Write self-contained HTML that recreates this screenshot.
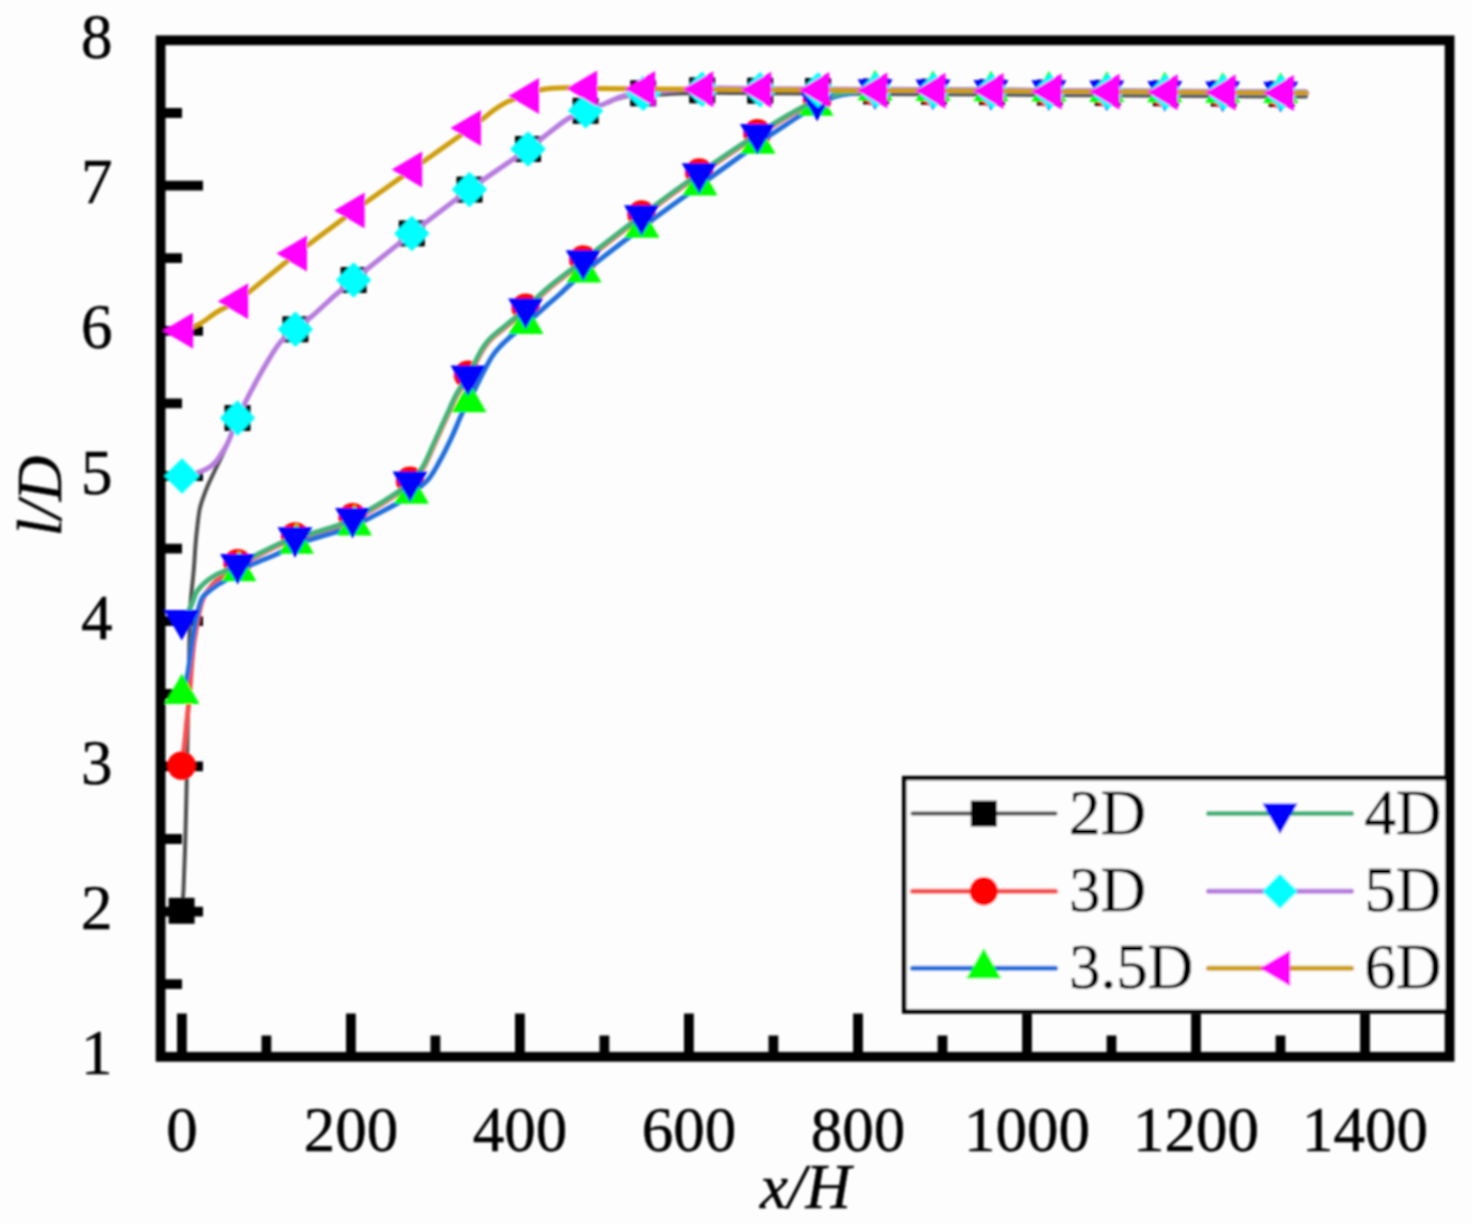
<!DOCTYPE html><html><head><meta charset="utf-8"><style>html,body{margin:0;padding:0;background:#fdfdfd;}svg{display:block;}text{font-family:"Liberation Serif",serif;stroke:#000;stroke-width:0.5px;}</style></head><body>
<svg width="1472" height="1224" viewBox="0 0 1472 1224">
<rect width="1472" height="1224" fill="#fdfdfd"/>
<defs><filter id="bl" x="-5%" y="-5%" width="110%" height="110%"><feGaussianBlur stdDeviation="1.3"/></filter></defs>
<g id="plot" filter="url(#bl)">
<path d="M181.9 1056.8V1013.5M350.9 1056.8V1013.5M519.9 1056.8V1013.5M688.9 1056.8V1013.5M858 1056.8V1013.5M1027 1056.8V1013.5M1196 1056.8V1013.5M1365 1056.8V1013.5M266.4 1056.8V1035.5M435.4 1056.8V1035.5M604.4 1056.8V1035.5M773.4 1056.8V1035.5M942.5 1056.8V1035.5M1111.5 1056.8V1035.5M1280.5 1056.8V1035.5M160.6 911.6H203M160.6 766.4H203M160.6 621.2H203M160.6 476H203M160.6 330.8H203M160.6 185.6H203M160.6 984.2H182M160.6 839H182M160.6 693.8H182M160.6 548.6H182M160.6 403.4H182M160.6 258.2H182M160.6 113H182" stroke="#000" stroke-width="9.8" fill="none"/>
<rect x="160.6" y="40.3" width="1289" height="1016.5" stroke="#000" stroke-width="9.8" fill="none"/>
<path d="M181.8 910.8C182.1 907.3 183 900.1 183.5 890C184 879.9 184.5 865 185 850C185.5 835 185.9 816.7 186.3 800C186.7 783.3 187 766.7 187.3 750C187.6 733.3 187.9 716.7 188.2 700C188.5 683.3 188.9 665 189.2 650C189.5 635 189.8 619.8 190.2 610C190.6 600.2 191 598.3 191.6 591.5C192.2 584.7 193.2 577.1 193.8 569.4C194.5 561.6 194.9 552.4 195.5 545C196.1 537.6 196.8 530.8 197.5 525C198.2 519.2 198.7 514.2 199.5 510C200.3 505.8 200.8 504.3 202.3 500C203.8 495.7 206.2 489.2 208.3 484.4C210.4 479.6 212.7 475.1 214.6 471C216.5 466.9 218.2 463.8 220 460C221.8 456.2 223.8 452 225.4 448.5C227 445 228.2 442.1 229.5 439C230.8 435.9 231.7 433.5 233 430C234.3 426.5 235.5 422.6 237.5 418C239.5 413.4 241.8 408.9 245.1 402.6C248.3 396.3 253.1 387.2 257 380C260.9 372.8 264.9 365.8 268.8 359.4C272.7 353 276.2 346.8 280.6 341.8C285 336.8 290 333.7 295.4 329.3C300.8 324.9 306.1 321.2 313 315.3C319.9 309.4 329.7 299.9 336.5 294C343.3 288.1 341.1 290.1 353.6 280C366.2 269.9 392.5 248.5 411.8 233.4C431.1 218.3 450.1 203.7 469.5 189.6C488.9 175.5 514.8 158.4 528 149C541.2 139.6 542 138.1 548.7 133C555.4 127.9 562.1 122.2 568.3 118.5C574.4 114.8 579.5 113.3 585.6 110.8C591.8 108.3 600.1 105.7 605.2 103.7C610.3 101.8 612.4 100.5 616 99.2C619.6 98 622.5 96.9 627 96.2C631.5 95.6 630.7 95.8 643.2 95.2C655.7 94.7 682.7 93.2 702.2 92.8C721.7 92.5 740.8 93.1 760.2 93.2C779.5 93.3 798.8 93.4 818.1 93.5C837.4 93.6 856.7 93.8 876.1 93.9C895.4 94 914.7 94.1 934 94.2C953.3 94.4 972.6 94.5 992 94.6C1011.3 94.7 1030.6 94.8 1049.9 95C1069.2 95.1 1088.5 95.2 1107.8 95.3C1127.2 95.4 1146.5 95.6 1165.8 95.7C1185.1 95.8 1204.4 95.9 1223.8 96C1243.1 96.2 1268 96.3 1281.7 96.4C1295.4 96.5 1302 96.5 1306 96.5" stroke="#505050" stroke-width="4.0" fill="none" stroke-linejoin="round" stroke-linecap="round"/><rect x="168.6" y="897.8" width="26" height="26" fill="#000000"/><rect x="224.5" y="405" width="26" height="26" fill="#000000"/><rect x="282.4" y="316.3" width="26" height="26" fill="#000000"/><rect x="340.6" y="267" width="26" height="26" fill="#000000"/><rect x="398.8" y="220.4" width="26" height="26" fill="#000000"/><rect x="456.5" y="176.6" width="26" height="26" fill="#000000"/><rect x="515" y="136" width="26" height="26" fill="#000000"/><rect x="572.6" y="97.8" width="26" height="26" fill="#000000"/><rect x="630.2" y="80.3" width="26" height="26" fill="#000000"/><rect x="689.2" y="77.3" width="26" height="26" fill="#000000"/><rect x="747.2" y="77.7" width="26" height="26" fill="#000000"/><rect x="805.1" y="78" width="26" height="26" fill="#000000"/><rect x="863.1" y="78.4" width="26" height="26" fill="#000000"/><rect x="921" y="78.7" width="26" height="26" fill="#000000"/><rect x="979" y="79.1" width="26" height="26" fill="#000000"/><rect x="1036.9" y="79.5" width="26" height="26" fill="#000000"/><rect x="1094.8" y="79.8" width="26" height="26" fill="#000000"/><rect x="1152.8" y="80.2" width="26" height="26" fill="#000000"/><rect x="1210.8" y="80.5" width="26" height="26" fill="#000000"/><rect x="1268.7" y="80.9" width="26" height="26" fill="#000000"/>
<path d="M181.6 765.6C182.1 762.2 183.6 752.6 184.5 745C185.4 737.4 186.2 727.5 187 720C187.8 712.5 188.4 706.7 189 700C189.6 693.3 190 686.7 190.5 680C191 673.3 191.4 666.2 192 660C192.6 653.8 193.1 648.3 193.8 643C194.5 637.7 195.4 633 196.3 628C197.2 623 198.1 617.2 199 613C199.9 608.8 200.6 605.9 201.5 603C202.4 600.1 203.2 597.9 204.5 595.5C205.8 593.1 207.4 591.1 209.5 588.5C211.6 585.9 214.6 582.2 217.3 580C220.1 577.8 222.5 577.5 226 575C229.5 572.5 233.3 568.3 238.1 565.3C242.9 562.3 248.3 560.3 255 557C261.7 553.7 271.4 548.6 278.1 545.5C284.9 542.4 289.9 540.2 295.5 538.4C301.1 536.6 304.9 536.5 312 534.5C319.1 532.5 330.9 529 337.8 526.5C344.7 524 347.7 521.9 353.1 519.2C358.6 516.5 363.1 514.8 370.5 510.5C377.9 506.2 390.8 498.2 397.5 493.6C404.2 489 406.3 486.9 410.5 482.7C414.7 478.5 418.9 474.9 422.9 468.5C426.9 462.1 430.6 452.5 434.5 444C438.4 435.5 442.8 425.5 446.5 417.5C450.2 409.5 452.8 402.8 456.5 396C460.2 389.2 464.3 384.1 468.5 376.7C472.7 369.3 478.2 357.6 481.7 351.6C485.2 345.6 486.6 344.1 489.5 340.8C492.4 337.5 496 334.8 499.3 332C502.6 329.2 504.6 327.8 509.1 324.1C513.6 320.4 519.6 315.5 526.1 309.6C532.6 303.8 538.7 297 548.3 289C557.9 281 568.1 273.6 583.7 261.5C599.3 249.4 622.7 231 642 216.5C661.3 202 680.4 188.1 699.7 174.5C719 160.9 742.8 145.1 757.9 135.2C773 125.3 780.9 120.5 790.5 115C800.1 109.5 807.2 105.4 815.5 102C823.8 98.6 833 96.1 840.5 94.5C848 92.9 854.7 93 860.5 92.3C866.3 91.6 863.4 90.6 875.6 90.4C887.7 90.1 914.2 90.6 933.5 90.7C952.8 90.9 972.1 91 991.5 91.1C1010.8 91.2 1030.1 91.3 1049.4 91.5C1068.7 91.6 1088 91.7 1107.3 91.8C1126.7 91.9 1146 92.1 1165.3 92.2C1184.6 92.3 1203.9 92.4 1223.2 92.5C1242.6 92.6 1267.3 92.8 1281.2 92.9C1295.1 93 1302.3 93 1306.5 93" stroke="#f44f4f" stroke-width="5.0" fill="none" stroke-linejoin="round" stroke-linecap="round"/><circle cx="181.6" cy="765.6" r="14.2" fill="#ff0000"/><circle cx="237.6" cy="563.3" r="14.2" fill="#ff0000"/><circle cx="295" cy="536.4" r="14.2" fill="#ff0000"/><circle cx="352.6" cy="517.2" r="14.2" fill="#ff0000"/><circle cx="410" cy="480.7" r="14.2" fill="#ff0000"/><circle cx="468" cy="374.7" r="14.2" fill="#ff0000"/><circle cx="525.6" cy="307.6" r="14.2" fill="#ff0000"/><circle cx="583.2" cy="259.5" r="14.2" fill="#ff0000"/><circle cx="641.5" cy="214.5" r="14.2" fill="#ff0000"/><circle cx="699.2" cy="172.5" r="14.2" fill="#ff0000"/><circle cx="757.4" cy="133.2" r="14.2" fill="#ff0000"/><circle cx="817.1" cy="100" r="14.2" fill="#ff0000"/><circle cx="875.1" cy="91.4" r="14.2" fill="#ff0000"/><circle cx="933" cy="91.7" r="14.2" fill="#ff0000"/><circle cx="991" cy="92.1" r="14.2" fill="#ff0000"/><circle cx="1048.9" cy="92.5" r="14.2" fill="#ff0000"/><circle cx="1106.8" cy="92.8" r="14.2" fill="#ff0000"/><circle cx="1164.8" cy="93.2" r="14.2" fill="#ff0000"/><circle cx="1222.8" cy="93.5" r="14.2" fill="#ff0000"/><circle cx="1280.7" cy="93.9" r="14.2" fill="#ff0000"/>
<path d="M182 693.8C182.5 692.5 184 689.6 185 686C186 682.4 187.1 677.2 188 672C188.9 666.8 189.8 660.3 190.5 655C191.2 649.7 191.8 644.5 192.5 640C193.2 635.5 193.8 632.4 194.6 628C195.4 623.6 196.7 617.4 197.5 613.5C198.3 609.6 198.8 607.4 199.7 604.7C200.5 602 201.1 599.6 202.6 597.4C204.1 595.2 205.8 593.7 208.5 591.5C211.2 589.3 215.9 586 218.8 584C221.8 582 222.8 581.9 226.2 579.7C229.6 577.5 234.3 573.7 239 571C243.7 568.3 248.1 566.2 254.5 563.3C260.9 560.4 270.6 557 277.6 553.7C284.6 550.4 290.9 545.9 296.5 543.5C302.1 541.1 304.9 541.2 311.5 539.3C318.1 537.4 328.8 534.3 336 532C343.2 529.7 349.1 527.6 354.5 525.3C359.9 523 361.5 522 368.6 518.4C375.7 514.8 389.9 507.6 397 503.5C404.1 499.4 406.3 497.5 411.5 493.5C416.7 489.5 423.2 485.2 428 479.7C432.8 474.2 436 467.7 440 460.6C444 453.5 448.1 444.9 451.8 437C455.5 429.1 459.1 419.5 462 413.5C464.9 407.5 465.8 407.1 469 401C472.2 394.9 477.2 384.2 481 376.8C484.8 369.4 488.7 361.7 492 356.5C495.3 351.3 498 348.7 500.8 345.7C503.6 342.7 504.4 341.9 508.6 338.3C512.8 334.7 519.5 329.4 526 323.8C532.5 318.2 542.1 309.5 547.8 304.5C553.5 299.5 554 299.4 560 294C566 288.6 570.3 283.4 584 272.3C597.7 261.2 622.7 242 642 227.5C661.3 213 680.7 199.3 700 185.3C719.3 171.3 743 154.1 758 143.5C773 132.9 780.3 128.3 790 122C799.7 115.7 808.5 109.8 816 105.5C823.5 101.2 828.3 98.7 835 96.5C841.7 94.3 849.3 93.5 856 92.6C862.7 91.7 862.2 91.1 875.1 90.9C887.9 90.7 913.7 91.1 933 91.2C952.3 91.4 971.6 91.5 991 91.6C1010.3 91.7 1029.6 91.8 1048.9 92C1068.2 92.1 1087.5 92.2 1106.8 92.3C1126.2 92.4 1145.5 92.6 1164.8 92.7C1184.1 92.8 1203.4 92.9 1222.8 93C1242.1 93.1 1266.8 93.3 1280.7 93.4C1294.6 93.5 1301.8 93.5 1306 93.5" stroke="#2070dd" stroke-width="5.0" fill="none" stroke-linejoin="round" stroke-linecap="round"/><path d="M182 673.5L199.5 704L164.5 704Z" fill="#00ff00"/><path d="M239 550.7L256.5 581.2L221.5 581.2Z" fill="#00ff00"/><path d="M296.5 523.2L314 553.7L279 553.7Z" fill="#00ff00"/><path d="M354.5 505L372 535.5L337 535.5Z" fill="#00ff00"/><path d="M411.5 473.2L429 503.7L394 503.7Z" fill="#00ff00"/><path d="M469 381.7L486.5 412.2L451.5 412.2Z" fill="#00ff00"/><path d="M526 303.5L543.5 334L508.5 334Z" fill="#00ff00"/><path d="M584 252L601.5 282.5L566.5 282.5Z" fill="#00ff00"/><path d="M642 207.2L659.5 237.7L624.5 237.7Z" fill="#00ff00"/><path d="M700 165L717.5 195.5L682.5 195.5Z" fill="#00ff00"/><path d="M758 123.2L775.5 153.7L740.5 153.7Z" fill="#00ff00"/><path d="M816 85.2L833.5 115.7L798.5 115.7Z" fill="#00ff00"/><path d="M875.1 70L892.6 100.5L857.6 100.5Z" fill="#00ff00"/><path d="M933 70.4L950.5 100.9L915.5 100.9Z" fill="#00ff00"/><path d="M991 70.8L1008.5 101.3L973.5 101.3Z" fill="#00ff00"/><path d="M1048.9 71.1L1066.4 101.6L1031.4 101.6Z" fill="#00ff00"/><path d="M1106.8 71.5L1124.3 102L1089.3 102Z" fill="#00ff00"/><path d="M1164.8 71.8L1182.3 102.3L1147.3 102.3Z" fill="#00ff00"/><path d="M1222.8 72.2L1240.2 102.7L1205.2 102.7Z" fill="#00ff00"/><path d="M1280.7 72.6L1298.2 103.1L1263.2 103.1Z" fill="#00ff00"/>
<path d="M181.7 620.2C182.9 618.5 187.1 613.2 189 610C190.9 606.8 191.8 603.8 193 601C194.2 598.2 194.8 595.2 196 593C197.2 590.8 198.1 589.6 200 587.5C201.9 585.4 204.6 582.7 207.5 580.5C210.4 578.3 214.2 576 217.3 574.3C220.4 572.6 222.6 572.2 226 570.5C229.4 568.8 232.8 566.7 237.6 564.3C242.3 561.9 247.8 559.3 254.5 556C261.2 552.7 270.9 547.6 277.6 544.5C284.4 541.4 289.4 539.2 295 537.4C300.6 535.6 304.4 535.5 311.5 533.5C318.6 531.5 330.4 528 337.3 525.5C344.2 523 347.2 520.9 352.6 518.2C358.1 515.5 362.6 513.8 370 509.5C377.4 505.2 390.3 497.2 397 492.6C403.7 488 405.8 485.9 410 481.7C414.2 477.5 418.4 473.9 422.4 467.5C426.4 461.1 430.1 451.5 434 443C437.9 434.5 442.3 424.5 446 416.5C449.7 408.5 452.3 401.8 456 395C459.7 388.2 463.8 383.1 468 375.7C472.2 368.3 477.7 356.6 481.2 350.6C484.7 344.6 486.1 343.1 489 339.8C491.9 336.5 495.5 333.8 498.8 331C502.1 328.2 504.1 326.8 508.6 323.1C513.1 319.4 519.1 314.5 525.6 308.6C532.1 302.8 538.2 296 547.8 288C557.4 280 567.6 272.6 583.2 260.5C598.8 248.4 622.2 230 641.5 215.5C660.8 201 679.9 187.1 699.2 173.5C718.5 159.9 742.3 144.1 757.4 134.2C772.5 124.3 780.4 119.5 790 114C799.6 108.5 806.7 104.4 815 101C823.3 97.6 832.5 95.1 840 93.5C847.5 91.9 854.2 92 860 91.3C865.8 90.6 862.9 89.6 875.1 89.4C887.2 89.1 913.7 89.6 933 89.7C952.3 89.9 971.6 90 991 90.1C1010.3 90.2 1029.6 90.3 1048.9 90.5C1068.2 90.6 1087.5 90.7 1106.8 90.8C1126.2 90.9 1145.5 91.1 1164.8 91.2C1184.1 91.3 1203.4 91.4 1222.8 91.5C1242.1 91.6 1266.8 91.8 1280.7 91.9C1294.6 92 1301.8 92 1306 92" stroke="#42b379" stroke-width="5.0" fill="none" stroke-linejoin="round" stroke-linecap="round"/><path d="M164.2 610L199.2 610L181.7 640.5Z" fill="#0000ff"/><path d="M220.1 554.1L255.1 554.1L237.6 584.6Z" fill="#0000ff"/><path d="M277.5 527.2L312.5 527.2L295 557.7Z" fill="#0000ff"/><path d="M335.1 508L370.1 508L352.6 538.5Z" fill="#0000ff"/><path d="M392.5 471.5L427.5 471.5L410 502Z" fill="#0000ff"/><path d="M450.5 365.5L485.5 365.5L468 396Z" fill="#0000ff"/><path d="M508.1 298.4L543.1 298.4L525.6 328.9Z" fill="#0000ff"/><path d="M565.7 250.3L600.7 250.3L583.2 280.8Z" fill="#0000ff"/><path d="M624 205.3L659 205.3L641.5 235.8Z" fill="#0000ff"/><path d="M681.7 163.3L716.7 163.3L699.2 193.8Z" fill="#0000ff"/><path d="M739.9 124L774.9 124L757.4 154.5Z" fill="#0000ff"/><path d="M799.6 90.8L834.6 90.8L817.1 121.3Z" fill="#0000ff"/><path d="M857.6 79.2L892.6 79.2L875.1 109.7Z" fill="#0000ff"/><path d="M915.5 79.6L950.5 79.6L933 110.1Z" fill="#0000ff"/><path d="M973.5 79.9L1008.5 79.9L991 110.4Z" fill="#0000ff"/><path d="M1031.4 80.3L1066.4 80.3L1048.9 110.8Z" fill="#0000ff"/><path d="M1089.3 80.6L1124.3 80.6L1106.8 111.1Z" fill="#0000ff"/><path d="M1147.3 81L1182.3 81L1164.8 111.5Z" fill="#0000ff"/><path d="M1205.2 81.4L1240.2 81.4L1222.8 111.9Z" fill="#0000ff"/><path d="M1263.2 81.7L1298.2 81.7L1280.7 112.2Z" fill="#0000ff"/>
<path d="M182 476C183.8 475.7 189.7 474.8 193 474C196.3 473.2 199.3 472.1 202 471C204.7 469.9 206.9 468.8 209.2 467.3C211.4 465.8 213.4 464.4 215.5 462C217.6 459.6 219.9 456 221.8 453C223.8 450 225.5 447.3 227.2 444C228.8 440.7 230 437.5 231.7 433.2C233.4 428.9 235.3 423.1 237.5 418C239.7 412.9 241.8 408.9 245.1 402.6C248.3 396.3 253.1 387.2 257 380C260.9 372.8 264.9 365.8 268.8 359.4C272.7 353 276.2 346.8 280.6 341.8C285 336.8 290 333.7 295.4 329.3C300.8 324.9 306.1 321.2 313 315.3C319.9 309.4 329.7 299.9 336.5 294C343.3 288.1 341.1 290.1 353.6 280C366.2 269.9 392.5 248.5 411.8 233.4C431.1 218.3 450.1 203.7 469.5 189.6C488.9 175.5 514.8 158.4 528 149C541.2 139.6 542 138.1 548.7 133C555.4 127.9 562.1 122.2 568.3 118.5C574.4 114.8 579.5 113.3 585.6 110.8C591.8 108.3 600.1 105.5 605.2 103.5C610.3 101.5 612.4 99.9 616 98.5C619.6 97.1 622.5 95.9 627 95C631.5 94.1 630.7 94.4 643.2 93.3C655.7 92.2 682.7 89.1 702.2 88.3C721.7 87.5 740.8 88.6 760.2 88.7C779.5 88.8 798.8 88.9 818.1 89C837.4 89.1 856.7 89.3 876.1 89.4C895.4 89.5 914.7 89.6 934 89.7C953.3 89.9 972.6 90 992 90.1C1011.3 90.2 1030.6 90.3 1049.9 90.5C1069.2 90.6 1088.5 90.7 1107.8 90.8C1127.2 90.9 1146.5 91.1 1165.8 91.2C1185.1 91.3 1204.4 91.4 1223.8 91.5C1243.1 91.7 1268 91.8 1281.7 91.9C1295.4 92 1302 92 1306 92" stroke="#b87ddf" stroke-width="5.0" fill="none" stroke-linejoin="round" stroke-linecap="round"/><path d="M182 458.2L199.8 476L182 493.8L164.2 476Z" fill="#00ffff"/><path d="M237.5 400.2L255.2 418L237.5 435.8L219.8 418Z" fill="#00ffff"/><path d="M295.4 311.6L313.1 329.3L295.4 347.1L277.6 329.3Z" fill="#00ffff"/><path d="M353.6 262.2L371.4 280L353.6 297.8L335.9 280Z" fill="#00ffff"/><path d="M411.8 215.7L429.6 233.4L411.8 251.2L394.1 233.4Z" fill="#00ffff"/><path d="M469.5 171.8L487.2 189.6L469.5 207.3L451.8 189.6Z" fill="#00ffff"/><path d="M528 131.2L545.8 149L528 166.8L510.2 149Z" fill="#00ffff"/><path d="M585.6 93L603.4 110.8L585.6 128.6L567.9 110.8Z" fill="#00ffff"/><path d="M643.2 75.5L661 93.3L643.2 111L625.5 93.3Z" fill="#00ffff"/><path d="M702.2 71.6L720 89.3L702.2 107.1L684.5 89.3Z" fill="#00ffff"/><path d="M760.2 71.9L777.9 89.7L760.2 107.4L742.4 89.7Z" fill="#00ffff"/><path d="M818.1 72.3L835.9 90L818.1 107.8L800.4 90Z" fill="#00ffff"/><path d="M876.1 72.6L893.8 90.4L876.1 108.1L858.3 90.4Z" fill="#00ffff"/><path d="M934 73L951.8 90.7L934 108.5L916.3 90.7Z" fill="#00ffff"/><path d="M992 73.4L1009.7 91.1L992 108.9L974.2 91.1Z" fill="#00ffff"/><path d="M1049.9 73.7L1067.7 91.5L1049.9 109.2L1032.2 91.5Z" fill="#00ffff"/><path d="M1107.8 74.1L1125.6 91.8L1107.8 109.6L1090.1 91.8Z" fill="#00ffff"/><path d="M1165.8 74.4L1183.5 92.2L1165.8 109.9L1148 92.2Z" fill="#00ffff"/><path d="M1223.8 74.8L1241.5 92.5L1223.8 110.3L1206 92.5Z" fill="#00ffff"/><path d="M1281.7 75.1L1299.5 92.9L1281.7 110.6L1264 92.9Z" fill="#00ffff"/>
<path d="M182.9 330.8C184.5 330.2 189.1 328.7 192.4 327.2C195.7 325.7 199.1 324.3 202.8 322C206.5 319.7 210.9 315.8 214.8 313.3C218.7 310.8 222.1 309.1 226 307C229.9 304.9 226.2 309.7 238 300.8C249.8 291.9 277.4 268.5 296.8 253.5C316.2 238.5 335.2 224.6 354.4 210.6C373.6 196.6 392.6 183.4 412 169.6C431.4 155.8 457.1 137.9 470.8 128C484.5 118.1 487.6 114.5 494 110C500.4 105.5 503.2 103.6 509 101C514.8 98.4 523.6 96.3 528.8 94.5C534 92.7 536.1 91 540 90C543.9 89 547.3 88.6 552 88.2C556.7 87.8 562.2 87.6 568 87.7C573.8 87.8 574.2 88.4 587 88.6C599.8 88.8 625.7 88.8 645 89C664.4 89.1 683.8 89.2 703.1 89.3C722.5 89.4 741.8 89.6 761.1 89.7C780.5 89.8 799.9 89.9 819.2 90C838.6 90.2 857.9 90.3 877.2 90.4C896.6 90.5 915.9 90.6 935.3 90.8C954.6 90.9 974 91 993.3 91.1C1012.7 91.2 1032.1 91.3 1051.4 91.5C1070.8 91.6 1090.1 91.7 1109.4 91.8C1128.8 91.9 1148.2 92.1 1167.5 92.2C1186.8 92.3 1206.2 92.4 1225.5 92.5C1244.9 92.7 1270.2 92.8 1283.6 92.9C1297 93 1302.3 93 1306 93" stroke="#cf9e0a" stroke-width="5.0" fill="none" stroke-linejoin="round" stroke-linecap="round"/><path d="M162.6 330.8L193.1 312.8L193.1 348.8Z" fill="#ff00ff"/><path d="M217.7 301.2L248.2 283.2L248.2 319.2Z" fill="#ff00ff"/><path d="M276.5 253.5L307 235.5L307 271.5Z" fill="#ff00ff"/><path d="M334.1 210.6L364.6 192.6L364.6 228.6Z" fill="#ff00ff"/><path d="M391.7 169.6L422.2 151.6L422.2 187.6Z" fill="#ff00ff"/><path d="M450.5 128L481 110L481 146Z" fill="#ff00ff"/><path d="M508.5 95.9L539 77.9L539 113.9Z" fill="#ff00ff"/><path d="M566.7 88.6L597.2 70.6L597.2 106.6Z" fill="#ff00ff"/><path d="M624.7 89L655.2 71L655.2 107Z" fill="#ff00ff"/><path d="M682.8 89.3L713.3 71.3L713.3 107.3Z" fill="#ff00ff"/><path d="M740.8 89.7L771.3 71.7L771.3 107.7Z" fill="#ff00ff"/><path d="M798.9 90L829.4 72L829.4 108Z" fill="#ff00ff"/><path d="M856.9 90.4L887.4 72.4L887.4 108.4Z" fill="#ff00ff"/><path d="M915 90.8L945.5 72.8L945.5 108.8Z" fill="#ff00ff"/><path d="M973 91.1L1003.5 73.1L1003.5 109.1Z" fill="#ff00ff"/><path d="M1031.1 91.5L1061.6 73.5L1061.6 109.5Z" fill="#ff00ff"/><path d="M1089.1 91.8L1119.6 73.8L1119.6 109.8Z" fill="#ff00ff"/><path d="M1147.2 92.2L1177.7 74.2L1177.7 110.2Z" fill="#ff00ff"/><path d="M1205.2 92.5L1235.7 74.5L1235.7 110.5Z" fill="#ff00ff"/><path d="M1263.3 92.9L1293.8 74.9L1293.8 110.9Z" fill="#ff00ff"/>
<rect x="904.2" y="778.1" width="543.3" height="233.4" fill="#fdfdfd" stroke="#000" stroke-width="4.5"/>
<path d="M912.5 813.6H1055.5" stroke="#505050" stroke-width="4.0" stroke-linecap="round"/>
<rect x="970.8" y="800.6" width="26" height="26" fill="#000000"/>
<text x="1069" y="833.8" font-size="63">2D</text>
<path d="M912.5 891.2H1055.5" stroke="#f44f4f" stroke-width="5.0" stroke-linecap="round"/>
<circle cx="983.8" cy="891.2" r="14.2" fill="#ff0000"/>
<text x="1069" y="911.4" font-size="63">3D</text>
<path d="M912.5 968.2H1055.5" stroke="#2070dd" stroke-width="5.0" stroke-linecap="round"/>
<path d="M983.8 947.9L1001.3 978.4L966.3 978.4Z" fill="#00ff00"/>
<text x="1069" y="988.4" font-size="63">3.5D</text>
<path d="M1208.5 813.6H1351.5" stroke="#42b379" stroke-width="5.0" stroke-linecap="round"/>
<path d="M1262.5 803.4L1297.5 803.4L1280 833.9Z" fill="#0000ff"/>
<text x="1364.5" y="833.8" font-size="63">4D</text>
<path d="M1208.5 891.2H1351.5" stroke="#b87ddf" stroke-width="5.0" stroke-linecap="round"/>
<path d="M1280 873.5L1297.8 891.2L1280 909L1262.2 891.2Z" fill="#00ffff"/>
<text x="1364.5" y="911.4" font-size="63">5D</text>
<path d="M1208.5 968.2H1351.5" stroke="#cf9e0a" stroke-width="5.0" stroke-linecap="round"/>
<path d="M1259.7 968.2L1290.2 950.2L1290.2 986.2Z" fill="#ff00ff"/>
<text x="1364.5" y="988.4" font-size="63">6D</text>
<text x="181.9" y="1150.5" font-size="63" text-anchor="middle">0</text>
<text x="350.9" y="1150.5" font-size="63" text-anchor="middle">200</text>
<text x="519.9" y="1150.5" font-size="63" text-anchor="middle">400</text>
<text x="688.9" y="1150.5" font-size="63" text-anchor="middle">600</text>
<text x="858" y="1150.5" font-size="63" text-anchor="middle">800</text>
<text x="1027" y="1150.5" font-size="63" text-anchor="middle">1000</text>
<text x="1196" y="1150.5" font-size="63" text-anchor="middle">1200</text>
<text x="1365" y="1150.5" font-size="63" text-anchor="middle">1400</text>
<text x="112.5" y="1074.3" font-size="63" text-anchor="end">1</text>
<text x="112.5" y="929.1" font-size="63" text-anchor="end">2</text>
<text x="112.5" y="783.9" font-size="63" text-anchor="end">3</text>
<text x="112.5" y="638.7" font-size="63" text-anchor="end">4</text>
<text x="112.5" y="493.5" font-size="63" text-anchor="end">5</text>
<text x="112.5" y="348.3" font-size="63" text-anchor="end">6</text>
<text x="112.5" y="203.1" font-size="63" text-anchor="end">7</text>
<text x="112.5" y="57.9" font-size="63" text-anchor="end">8</text>
<text x="805.5" y="1208" font-size="63" font-style="italic" text-anchor="middle">x/H</text>
<text transform="translate(61,496) rotate(-90)" x="0" y="0" font-size="63" font-style="italic" text-anchor="middle">l/D</text>
</g></svg></body></html>
